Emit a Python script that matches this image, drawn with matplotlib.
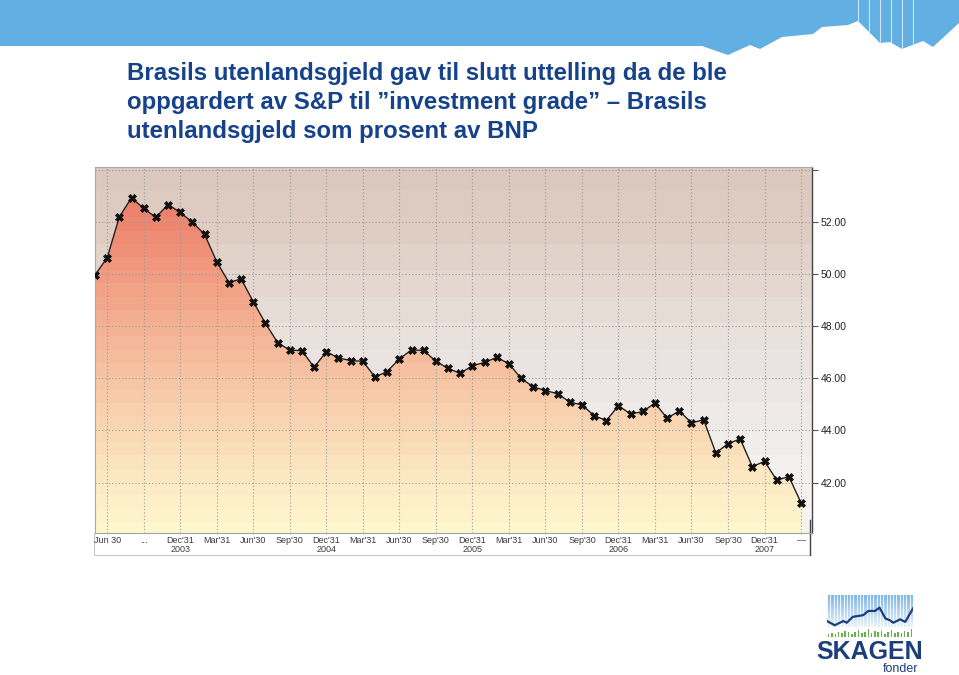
import numpy as np
import matplotlib
matplotlib.use("Agg")
import matplotlib.pyplot as plt
from matplotlib.colors import LinearSegmentedColormap, ListedColormap
from matplotlib.patches import Polygon, Rectangle

plt.rcParams["font.family"] = ["Liberation Sans", "DejaVu Sans"]

# monthly values, May 2003 .. Mar 2008 (% of GDP)
debt = [49.96, 50.62, 52.19, 52.92, 52.51, 52.17, 52.66, 52.36, 51.98, 51.52,
        50.47, 49.67, 49.81, 48.94, 48.11, 47.37, 47.08, 47.06, 46.42, 47.02,
        46.78, 46.68, 46.65, 46.05, 46.26, 46.74, 47.09, 47.07, 46.65, 46.38,
        46.19, 46.48, 46.61, 46.80, 46.56, 46.00, 45.67, 45.53, 45.41, 45.09,
        44.98, 44.57, 44.38, 44.95, 44.63, 44.73, 45.05, 44.47, 44.75, 44.29,
        44.41, 43.14, 43.49, 43.68, 42.61, 42.82, 42.10, 42.23, 41.23]

# quarter ticks (index into debt) and their labels
quarter_idx = [1, 4, 7, 10, 13, 16, 19, 22, 25, 28, 31, 34, 37, 40, 43, 46,
               49, 52, 55, 58]
quarter_labels = ["Jun 30", "...", "Dec'31\n2003", "Mar'31", "Jun'30", "Sep'30",
                  "Dec'31\n2004", "Mar'31", "Jun'30", "Sep'30", "Dec'31\n2005",
                  "Mar'31", "Jun'30", "Sep'30", "Dec'31\n2006", "Mar'31",
                  "Jun'30", "Sep'30", "Dec'31\n2007", "\u2014"]
y_ticks = [42, 44, 46, 48, 50, 52, 54]

title = ("Brasils utenlandsgjeld gav til slutt uttelling da de ble\n"
         "oppgardert av S&P til \u201dinvestment grade\u201d \u2013 Brasils\n"
         "utenlandsgjeld som prosent av BNP")

# decorative banner outline (pixels) and logo shapes
banner_px = [(0, 0), (959, 0), (959, 23), (933, 47), (923, 41), (902, 49),
             (890, 42), (880, 43), (858, 21), (848, 25), (822, 27), (813, 34),
             (782, 37), (760, 49), (750, 45), (728, 55), (702, 46), (0, 46)]
logo_line_x = [0, 0.09, 0.19, 0.23, 0.30, 0.42, 0.48, 0.56, 0.61, 0.68, 0.73,
               0.77, 0.85, 0.91, 1.0]
logo_line_y = [0.38, 0.28, 0.38, 0.34, 0.48, 0.52, 0.62, 0.62, 0.70, 0.44,
               0.40, 0.34, 0.42, 0.36, 0.68]
logo_bars = [0.06, 0.10, 0.08, 0.12, 0.09, 0.14, 0.11, 0.08, 0.13, 0.16, 0.10,
             0.12, 0.18, 0.09, 0.14, 0.11, 0.15, 0.08, 0.12, 0.17, 0.10, 0.13,
             0.09, 0.15, 0.12, 0.18]

W, H = 959, 675
fig = plt.figure(figsize=(W / 100, H / 100), dpi=100)

# top banner
fig.patches.append(Polygon([(x / W, 1 - y / H) for x, y in banner_px],
                           closed=True, transform=fig.transFigure,
                           facecolor="#62b0e3", edgecolor="none"))
for xp, yb in [(858, 22), (869, 33), (880, 43), (891, 42), (902, 48), (913, 45)]:
    fig.add_artist(plt.Line2D([xp / W, xp / W], [1, 1 - yb / H],
                              transform=fig.transFigure, color="#cfe6f6", lw=0.8))

fig.text(127 / W, 1 - 62 / H, title, fontsize=17.3, fontweight="bold",
         color="#15428a", va="top", ha="left", linespacing=1.33)

ax = fig.add_axes([95 / W, 1 - 533 / H, 717 / W, 366 / H])
x = np.arange(len(debt))
ymin, ymax = 40.07, 54.1
xmax = 58.9

# banded background
bg_cmap = LinearSegmentedColormap.from_list(
    "bg", ["#f6f4f0", "#f4f1ee", "#efebe8", "#ece5e4", "#e8e0da", "#e3d6ce",
           "#dfcdc4", "#dbc8be"])
bg = ListedColormap(bg_cmap(np.linspace(0, 1, 14)))
ax.imshow(np.linspace(0, 1, 14)[::-1].reshape(-1, 1), cmap=bg, aspect="auto",
          extent=[0, xmax, 40, 54.2], zorder=0, interpolation="nearest")

# banded fill under the curve
fill_cmap = LinearSegmentedColormap.from_list(
    "fill", ["#fef6cc", "#fce8c2", "#f9d7b3", "#f7c4a3", "#f4b093", "#f19c82",
             "#ee8670", "#eb7462"])
fc = ListedColormap(fill_cmap(np.linspace(0, 1, 28)))
poly = ax.fill_between(x, ymin - 1, debt, color="none", zorder=1)
img = ax.imshow(np.linspace(0, 1, 28)[::-1].reshape(-1, 1), cmap=fc,
                aspect="auto", extent=[0, xmax, 40, 54.2], zorder=1,
                interpolation="nearest")
img.set_clip_path(poly.get_paths()[0], transform=ax.transData)

ax.plot(x, debt, color="#222222", lw=1.0, marker="X", markersize=5.5,
        markerfacecolor="#111111", markeredgecolor="#111111",
        markeredgewidth=0.5, zorder=3)

ax.set_xlim(0, xmax)
ax.set_ylim(ymin, ymax)

ax.set_xticks(quarter_idx)
ax.set_xticklabels(quarter_labels, fontsize=6.5, color="#3a3a3a",
                   linespacing=1.05)
ax.tick_params(axis="x", which="both", length=0, pad=2)

ax.yaxis.tick_right()
ax.set_yticks(y_ticks)
ax.set_yticklabels([f"{v:.2f}" if v < 54 else "" for v in y_ticks],
                   fontsize=7.5, color="#222222")
ax.tick_params(axis="y", length=4, width=0.8, color="#555555", pad=2)

ax.grid(True, which="major", color="#9a9a9a", linestyle=(0, (1, 2)), lw=0.8)
ax.set_axisbelow(False)
for line in ax.get_xgridlines() + ax.get_ygridlines():
    line.set_zorder(2)

for side in ["top", "left", "bottom"]:
    ax.spines[side].set_color("#a8a8a8")
    ax.spines[side].set_linewidth(0.8)
ax.spines["right"].set_color("#444444")
ax.spines["right"].set_linewidth(1.0)

# frame round the date labels
ax.add_patch(Rectangle((-0.002, -0.06), 0.999, 0.06, transform=ax.transAxes,
                       fill=False, edgecolor="#c8c8c8", lw=0.8, clip_on=False))
ax.add_artist(plt.Line2D([0.997, 0.997], [-0.06, 0.035], transform=ax.transAxes,
                         color="#444444", lw=1.0, clip_on=False))

# logo
lax = fig.add_axes([827 / W, 1 - 637 / H, 86 / W, 42 / H])
stripe = LinearSegmentedColormap.from_list("st", ["#e8f2fb", "#80b8e6"])
lax.imshow(np.linspace(0, 1, 50)[::-1].reshape(-1, 1), cmap=stripe,
           aspect="auto", extent=[0, 1, 0.24, 1], zorder=0)
for xs in np.linspace(0, 1, 27):
    lax.axvline(xs, color="white", lw=0.6, zorder=1)
bx = np.linspace(0.02, 0.98, len(logo_bars))
lax.bar(bx, logo_bars, width=0.018, color="#6ab04c", zorder=2)
lax.plot(logo_line_x, logo_line_y, color="#1c3f7c", lw=1.6, zorder=3)
lax.set_xlim(0, 1)
lax.set_ylim(0, 1)
lax.axis("off")

fig.text(870 / W, 1 - 652 / H, "SKAGEN", fontsize=18, fontweight="bold",
         color="#1c3f7c", ha="center", va="center")
fig.text(901 / W, 1 - 669 / H, "fonder", fontsize=9, color="#1c3f7c",
         ha="center", va="center")

fig.savefig("out.png", dpi=100)
